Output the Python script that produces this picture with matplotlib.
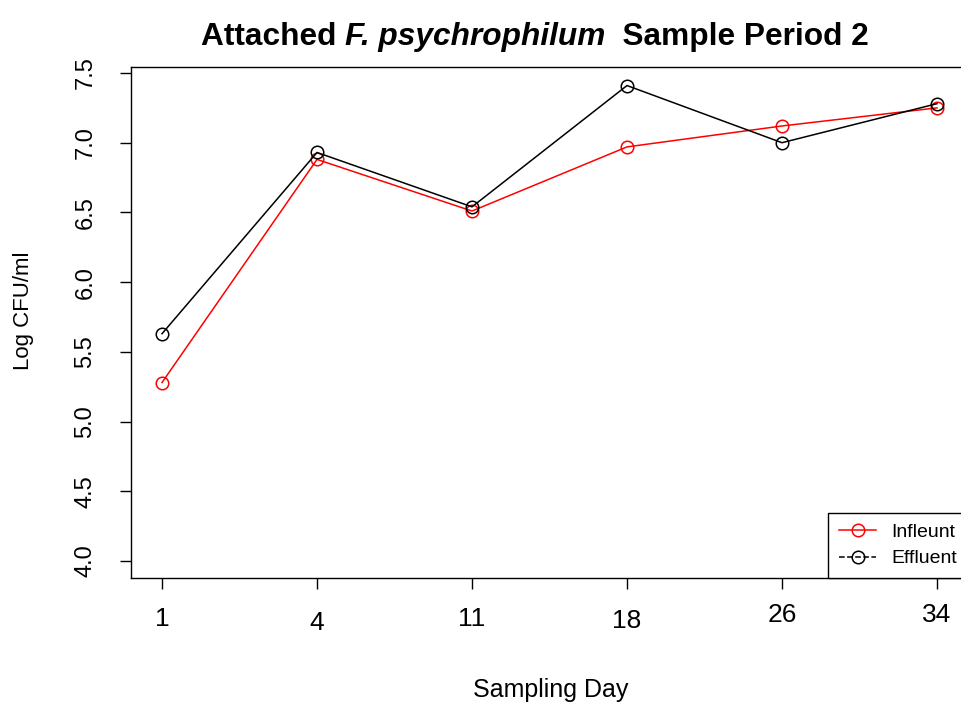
import numpy as np
import matplotlib.pyplot as plt
from matplotlib.lines import Line2D
import matplotlib.transforms as mtransforms

plt.rcParams['font.family'] = ['Liberation Sans', 'DejaVu Sans']

# data
days = ['1', '4', '11', '18', '26', '34']
influent = [5.28, 6.88, 6.51, 6.97, 7.12, 7.25]
effluent = [5.63, 6.93, 6.54, 7.41, 7.00, 7.28]
yticks = [4.0, 4.5, 5.0, 5.5, 6.0, 6.5, 7.0, 7.5]

x = np.arange(len(days))

fig = plt.figure(figsize=(9.62, 7.04), dpi=100)
ax = fig.add_axes([131 / 962, 1 - 578 / 704, (968 - 131) / 962, (578 - 67) / 704])

ax.plot(x, influent, color='red', lw=1.1, marker='o', ms=9, mfc='none', mew=1.1)
ax.plot(x, effluent, color='black', lw=1.1, marker='o', ms=9, mfc='none', mew=1.1)

ax.set_xlim(-0.2, 5.2)
ax.set_ylim(3.878, 7.543)
ax.set_xticks(x)
ax.set_xticklabels(days, fontsize=19)
ax.set_yticks(yticks)
ax.set_yticklabels(['%.1f' % v for v in yticks], fontsize=17, rotation=90, va='center')
ax.tick_params(axis='x', length=8, width=1, pad=13)
ax.tick_params(axis='y', length=8, width=1, pad=17)
for s in ax.spines.values():
    s.set_linewidth(1.0)

# R staggers the day labels a little
shifts = [0, -4, 0, -2, 4, 4]
for lab, dy in zip(ax.get_xticklabels(), shifts):
    off = mtransforms.ScaledTranslation(0, dy / 100, fig.dpi_scale_trans)
    lab.set_transform(lab.get_transform() + off)

ax.set_xlabel('Sampling Day', fontsize=18)
ax.xaxis.label.set_va('baseline')
ax.xaxis.set_label_coords((551 - 131) / 837, (578 - 697) / 511)
ax.set_ylabel('Log CFU/ml', fontsize=16)
ax.yaxis.label.set_va('center')
ax.yaxis.set_label_coords((23 - 131) / 837, (578 - 311) / 511)

# title in three pieces so the species name can be italic
parts = [('Attached ', 'normal'), ('F. psychrophilum', 'italic'), ('  Sample Period 2', 'normal')]
ty = 1 - 45 / 704
texts = [fig.text(0, ty, s, fontsize=22.8, fontweight='bold', fontstyle=st,
                  ha='left', va='baseline') for s, st in parts]
r = fig.canvas.get_renderer()
widths = [t.get_window_extent(r).width for t in texts]
x0 = 535 - sum(widths) / 2
for t, w in zip(texts, widths):
    t.set_x(x0 / 962)
    x0 += w

handles = [
    Line2D([], [], color='red', lw=1.1, marker='o', ms=9, mfc='none', mew=1.1),
    Line2D([], [], color='black', lw=1.1, ls='--', marker='o', ms=9, mfc='none', mew=1.1),
]
leg = ax.legend(handles, ['Infleunt', 'Effluent'], loc='lower right',
                bbox_to_anchor=(1, 0), borderaxespad=0, fontsize=14,
                fancybox=False, edgecolor='black', framealpha=1,
                handlelength=1.9, handletextpad=0.8, labelspacing=0.45,
                borderpad=0.55)
leg.get_frame().set_linewidth(1.0)

fig.savefig('out.png', dpi=100)
